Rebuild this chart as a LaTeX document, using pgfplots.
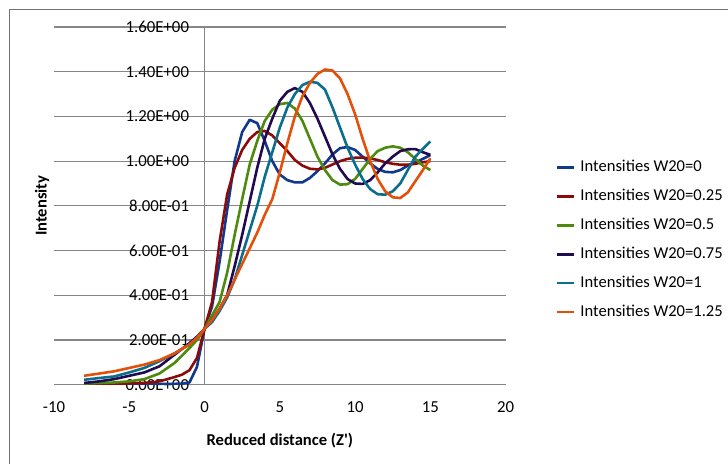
\documentclass[border=0pt]{standalone}
\usepackage{pgfplots}
\pgfplotsset{compat=1.18}
\usepackage{fontspec}
\setmainfont{Carlito}

\definecolor{wA}{HTML}{10388C}
\definecolor{wB}{HTML}{8B0A0A}
\definecolor{wC}{HTML}{4E8A0E}
\definecolor{wD}{HTML}{220A50}
\definecolor{wE}{HTML}{0A6E8C}
\definecolor{wF}{HTML}{E2500A}
\definecolor{gridc}{HTML}{868686}

\newcommand{\tickfont}{\fontsize{16.8bp}{19bp}\selectfont}
\newcommand{\legfont}{\fontsize{16.6bp}{19bp}\selectfont}
\newcommand{\T}[1]{\mbox{\tickfont #1}}

\begin{document}
\begin{tikzpicture}[x=1bp,y=1bp]
\begin{axis}[
  /pgf/number format/assume math mode=true,
  scale only axis, width=452bp, height=358bp,
  xmin=-10, xmax=20, ymin=0, ymax=1.6,
  axis x line=bottom, axis y line=middle,
  x axis line style={draw=none},
  y axis line style={draw=gridc, line width=0.9bp, -},
  hide obscured x ticks=false, hide obscured y ticks=false,
  major tick length=0pt,
  xtick={-10,-5,0,5,10,15,20},
  xticklabels={\T{-10},\T{-5},\T{0},\T{5},\T{10},\T{15},\T{20}},
  ytick={0,0.2,0.4,0.6,0.8,1.0,1.2,1.4,1.6},
  yticklabels={\T{0.00E+00},\T{2.00E-01},\T{4.00E-01},\T{6.00E-01},\T{8.00E-01},
    \T{1.00E+00},\T{1.20E+00},\T{1.40E+00},\T{1.60E+00}},
  ymajorgrids=true,
  grid style={draw=gridc, line width=1.1bp},
  xticklabel style={yshift=-13bp},
  yticklabel style={xshift=-12bp},
  every axis y label/.style={at={(axis description cs:-0.0265,0.5)}, rotate=90, anchor=center, font=\legfont\bfseries},
  every axis x label/.style={at={(axis description cs:0.5,-0.156)}, anchor=center, font=\legfont\bfseries},
  xlabel={Reduced distance (Z\textquotesingle)},
  ylabel={Intensity},
  legend style={at={(axis description cs:1.1106,0.405)}, anchor=west,
    draw=none, fill=none, inner sep=0pt, row sep=13.4bp, column sep=5bp,
    font=\legfont,
    nodes={inner sep=0pt, text height=12bp, text depth=3.5bp}},
  legend cell align=left,
  legend image code/.code={\draw[#1] (0bp,0bp) -- (17bp,0bp);},
  every axis plot/.append style={line width=2.6bp, line join=round},
]
\addplot[wA] coordinates {
(-8,0.003) (-6,0.003) (-4,0.003) (-2,0.004) (-1.5,0.005) (-1,0.01) (-0.5,0.08)
(0,0.25) (0.5,0.35) (1,0.55) (1.5,0.78) (2,1.0) (2.5,1.13) (3,1.185) (3.5,1.17)
(4,1.09) (4.5,1.0) (5,0.94) (5.5,0.915) (6,0.905) (6.5,0.905) (7,0.925) (7.5,0.955)
(8,0.99) (8.5,1.03) (9,1.058) (9.5,1.063) (10,1.05) (10.5,1.02) (11,0.99) (11.5,0.965)
(12,0.952) (12.5,0.95) (13,0.96) (13.5,0.98) (14,0.995) (14.5,1.01) (15,1.027)};
\addlegendentry{Intensities W20=0}
\addplot[wB] coordinates {
(-8,0.002) (-6,0.004) (-4,0.008) (-3,0.015) (-2,0.034) (-1.5,0.045) (-1,0.065) (-0.5,0.12)
(0,0.25) (0.5,0.37) (1,0.64) (1.5,0.85) (2,0.97) (2.5,1.05) (3,1.1) (3.5,1.13)
(4,1.135) (4.5,1.115) (5,1.08) (5.5,1.045) (6,1.005) (6.5,0.98) (7,0.966) (7.5,0.963)
(8,0.97) (8.5,0.985) (9,1.0) (9.5,1.01) (10,1.015) (10.5,1.016) (11,1.012) (11.5,1.005)
(12,0.995) (12.5,0.988) (13,0.984) (13.5,0.984) (14,0.988) (14.5,0.995) (15,1.0)};
\addlegendentry{Intensities W20=0.25}
\addplot[wC] coordinates {
(-8,0.005) (-6,0.01) (-5,0.015) (-4,0.025) (-3,0.05) (-2,0.097) (-1.5,0.13) (-1,0.164) (-0.5,0.2)
(0,0.25) (0.5,0.31) (1,0.37) (1.5,0.5) (2,0.67) (2.5,0.83) (3,0.985) (3.5,1.09)
(4,1.18) (4.5,1.23) (5,1.255) (5.5,1.26) (6,1.235) (6.5,1.18) (7,1.1) (7.5,1.02)
(8,0.96) (8.5,0.915) (9,0.895) (9.5,0.897) (10,0.92) (10.5,0.965) (11,1.01) (11.5,1.045)
(12,1.06) (12.5,1.066) (13,1.06) (13.5,1.04) (14,1.01) (14.5,0.98) (15,0.96)};
\addlegendentry{Intensities W20=0.5}
\addplot[wD] coordinates {
(-8,0.008) (-7,0.015) (-6,0.025) (-5,0.04) (-4,0.055) (-3,0.082) (-2,0.134) (-1.5,0.16) (-1,0.186) (-0.5,0.215)
(0,0.25) (0.5,0.29) (1,0.34) (1.5,0.4) (2,0.53) (2.5,0.67) (3,0.82) (3.5,0.97)
(4,1.1) (4.5,1.19) (5,1.27) (5.5,1.31) (6,1.327) (6.5,1.31) (7,1.26) (7.5,1.19)
(8,1.11) (8.5,1.03) (9,0.965) (9.5,0.92) (10,0.9) (10.5,0.898) (11,0.915) (11.5,0.95)
(12,0.99) (12.5,1.02) (13,1.045) (13.5,1.053) (14,1.054) (14.5,1.04) (15,1.028)};
\addlegendentry{Intensities W20=0.75}
\addplot[wE] coordinates {
(-8,0.022) (-7,0.03) (-6,0.037) (-5,0.055) (-4,0.075) (-3,0.105) (-2,0.14) (-1.5,0.16) (-1,0.18) (-0.5,0.21)
(0,0.25) (0.5,0.28) (1,0.33) (1.5,0.39) (2,0.47) (2.5,0.58) (3,0.69) (3.5,0.8)
(4,0.93) (4.5,1.04) (5,1.15) (5.5,1.24) (6,1.3) (6.5,1.34) (7,1.355) (7.5,1.35)
(8,1.32) (8.5,1.24) (9,1.15) (9.5,1.06) (10,0.985) (10.5,0.92) (11,0.875) (11.5,0.852)
(12,0.85) (12.5,0.865) (13,0.9) (13.5,0.96) (14,1.02) (14.5,1.055) (15,1.088)};
\addlegendentry{Intensities W20=1}
\addplot[wF] coordinates {
(-8,0.04) (-7,0.05) (-6,0.06) (-5,0.075) (-4,0.09) (-3,0.11) (-2,0.14) (-1.5,0.16) (-1,0.18) (-0.5,0.21)
(0,0.25) (0.5,0.29) (1,0.34) (1.5,0.4) (2,0.47) (2.5,0.54) (3,0.61) (3.5,0.68)
(4,0.76) (4.5,0.83) (5,0.95) (5.5,1.08) (6,1.2) (6.5,1.29) (7,1.35) (7.5,1.39)
(8,1.41) (8.5,1.405) (9,1.37) (9.5,1.3) (10,1.21) (10.5,1.1) (11,1.0) (11.5,0.92)
(12,0.865) (12.5,0.838) (13,0.835) (13.5,0.86) (14,0.91) (14.5,0.96) (15,1.013)};
\addlegendentry{Intensities W20=1.25}
\end{axis}
\path (-54,-79) rectangle (674,385);
\draw[black!55, line width=1bp] (-44.5,-79) -- (-44.5,375.5) -- (674,375.5);
\end{tikzpicture}
\end{document}
